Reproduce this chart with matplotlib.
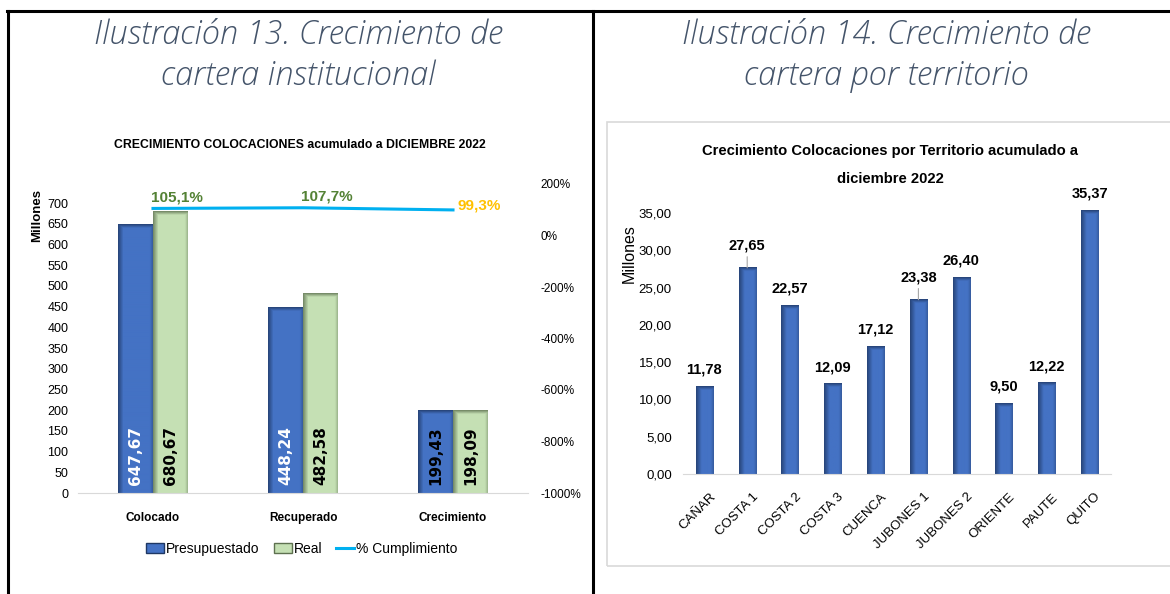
import numpy as np
import matplotlib
matplotlib.use('Agg')
import matplotlib.pyplot as plt
import matplotlib.transforms as mtransforms
from matplotlib.colors import to_rgb
from matplotlib.patches import Rectangle, Patch
from matplotlib.lines import Line2D

plt.rcParams['font.family'] = ['Liberation Sans', 'DejaVu Sans']

# Crecimiento de cartera institucional (millones)
categorias = ['Colocado', 'Recuperado', 'Crecimiento']
presupuestado = [647.67, 448.24, 199.43]
real = [680.67, 482.58, 198.09]
cumplimiento = [105.1, 107.7, 99.3]

# Crecimiento de cartera por territorio (millones)
territorios = ['CAÑAR', 'COSTA 1', 'COSTA 2', 'COSTA 3', 'CUENCA',
               'JUBONES 1', 'JUBONES 2', 'ORIENTE', 'PAUTE', 'QUITO']
colocaciones = [11.78, 27.65, 22.57, 12.09, 17.12, 23.38, 26.40, 9.50, 12.22, 35.37]

AZUL = '#4472C4'
AZUL_OSCURO = '#1F3864'
VERDE = '#C5E0B4'
VERDE_OSCURO = '#5E7150'
CIAN = '#00B0F0'
TITULO = '#44546A'

W, H = 1170, 594


def fx(px):
    return px / W


def fy(py):
    return 1 - py / H


def coma(v, dec=2):
    return f'{v:.{dec}f}'.replace('.', ',')


def shade(ax, bars, base, dark):
    """Paint each bar with darker left/top edges, like Excel's inner shadow."""
    base = np.array(to_rgb(base))
    dark = np.array(to_rgb(dark))
    for rect in bars:
        x0, y0 = rect.get_x(), rect.get_y()
        x1, y1 = x0 + rect.get_width(), y0 + rect.get_height()
        (p0, q0), (p1, q1) = ax.transData.transform([(x0, y0), (x1, y1)])
        wpx = max(int(round(p1 - p0)), 2)
        hpx = max(int(round(q1 - q0)), 2)
        i = np.arange(wpx)[None, :]
        j = np.arange(hpx)[:, None]
        left = np.clip(1 - i / 5.0, 0, 1) * 0.75
        right = np.clip(1 - (wpx - 1 - i) / 2.5, 0, 1) * 0.35
        top = np.clip(1 - j / 3.5, 0, 1) * 0.75
        d = np.maximum(np.maximum(left, right), top)[..., None]
        img = base * (1 - d) + dark * d
        ax.imshow(img, extent=(x0, x1, y0, y1), aspect='auto', interpolation='bilinear',
                  zorder=1.5)
        rect.set_edgecolor('none')


fig = plt.figure(figsize=(W / 100, H / 100), dpi=100)

# Table borders
for xs, ys in [([7, W], [11, 11]), ([8, 8], [11, H]), ([593, 593], [11, H])]:
    fig.add_artist(Line2D([fx(v) for v in xs], [fy(v) for v in ys], color='black', lw=2.2,
                          transform=fig.transFigure))

# Captions
cap = dict(family=['Open Sans', 'DejaVu Sans'], style='italic', weight=300, size=23.5,
           color=TITULO, ha='center', va='center')
fig.text(fx(298), fy(35), 'Ilustración 13. Crecimiento de', **cap)
fig.text(fx(298), fy(76), 'cartera institucional', **cap)
fig.text(fx(886), fy(35), 'Ilustración 14. Crecimiento de', **cap)
fig.text(fx(886), fy(76), 'cartera por territorio', **cap)

# ---- Left chart: presupuestado vs real ----
ax1 = fig.add_axes([fx(78), fy(493), (528 - 78) / W, (493 - 184) / H])
x = np.arange(len(categorias))
w = 0.2333
ax1.set_xlim(-0.5, 2.5)
ax1.set_ylim(0, 746)
b_pres = ax1.bar(x - w / 2, presupuestado, w, color=AZUL)
b_real = ax1.bar(x + w / 2, real, w, color=VERDE)
shade(ax1, b_pres, AZUL, AZUL_OSCURO)
shade(ax1, b_real, VERDE, VERDE_OSCURO)
ax1.set_yticks(range(0, 701, 50))
ax1.set_xticks(x, categorias, fontweight='bold', fontsize=8.5)
ax1.tick_params(axis='x', length=0, pad=14)
ax1.tick_params(axis='y', length=0, pad=7, labelsize=9)
for s in ['top', 'left', 'right']:
    ax1.spines[s].set_visible(False)
ax1.spines['bottom'].set_color('#D9D9D9')

label_colors = ['white', 'white', 'black']
for i in range(len(categorias)):
    ax1.annotate(coma(presupuestado[i]), (x[i] - w / 2, 0), xytext=(0, 6),
                 textcoords='offset points', rotation=90, ha='center', va='bottom',
                 family='DejaVu Sans', weight='bold', size=11, color=label_colors[i])
    ax1.annotate(coma(real[i]), (x[i] + w / 2, 0), xytext=(0, 6),
                 textcoords='offset points', rotation=90, ha='center', va='bottom',
                 family='DejaVu Sans', weight='bold', size=11, color='black')

ax2 = ax1.twinx()
ratio = [c / 100 for c in cumplimiento]
ax2.plot(x, ratio, color=CIAN, lw=2.2)
ax2.set_ylim(-10, 2)
ax2.set_yticks(np.arange(-10, 2.1, 2))
ax2.set_yticklabels([f'{int(round(v * 100))}%' for v in np.arange(-10, 2.1, 2)])
ax2.tick_params(axis='y', length=0, pad=9, labelsize=8.5)
for s in ax2.spines.values():
    s.set_visible(False)

pct_colors = ['#548235', '#548235', '#FFC000']
for i, r in enumerate(ratio):
    if i < len(ratio) - 1:
        ax2.annotate(coma(cumplimiento[i], 1) + '%', (x[i], r), xytext=(17, 8),
                     textcoords='offset points', ha='center', va='center',
                     weight='bold', size=11, color=pct_colors[i])
    else:
        ax2.annotate(coma(cumplimiento[i], 1) + '%', (x[i], r), xytext=(3, 3),
                     textcoords='offset points', ha='left', va='center',
                     weight='bold', size=11, color=pct_colors[i])

fig.text(fx(300), fy(145), 'CRECIMIENTO COLOCACIONES acumulado a DICIEMBRE 2022',
         ha='center', va='center', weight='bold', size=8.8)
fig.text(fx(37), fy(216), 'Millones', rotation=90, ha='center', va='center',
         weight='bold', size=9.5)

handles = [Patch(facecolor=AZUL, edgecolor=AZUL_OSCURO),
           Patch(facecolor=VERDE, edgecolor=VERDE_OSCURO),
           Line2D([], [], color=CIAN, lw=2.2)]
fig.legend(handles, ['Presupuestado', 'Real', '% Cumplimiento'], loc='center',
           bbox_to_anchor=(fx(302), fy(549)), ncol=3, frameon=False, fontsize=10,
           handlelength=1.3, handletextpad=0.15, columnspacing=1.0)

# ---- Right chart: by territory ----
fig.add_artist(Rectangle((fx(607), fy(566)), (1180 - 607) / W, (566 - 122) / H,
                         transform=fig.transFigure, fill=False, edgecolor='#D9D9D9', lw=1.2))

ax3 = fig.add_axes([fx(683), fy(474), (1111 - 683) / W, (474 - 202) / H])
xt = np.arange(len(territorios))
ax3.set_xlim(-0.5, len(territorios) - 0.5)
ax3.set_ylim(0, 36.48)
b_terr = ax3.bar(xt, colocaciones, 0.4, color=AZUL)
shade(ax3, b_terr, AZUL, AZUL_OSCURO)
yt = np.arange(0, 35.1, 5)
ax3.set_yticks(yt, [coma(v) for v in yt])
ax3.tick_params(axis='y', length=0, pad=8, labelsize=9.5)
ax3.set_xticks(xt, territorios)
ax3.tick_params(axis='x', length=0, pad=12, labelsize=9.5)
shift = mtransforms.ScaledTranslation(0.05, 0, fig.dpi_scale_trans)
for lbl in ax3.get_xticklabels():
    lbl.set_rotation(45)
    lbl.set_ha('right')
    lbl.set_va('top')
    lbl.set_rotation_mode('anchor')
    lbl.set_transform(lbl.get_transform() + shift)
for s in ['top', 'left', 'right']:
    ax3.spines[s].set_visible(False)
ax3.spines['bottom'].set_color('#D9D9D9')

# labels that were dragged up get a leader line
nudge = {'COSTA 1': 4, 'JUBONES 1': 4}
for i, (t, v) in enumerate(zip(territorios, colocaciones)):
    extra = nudge.get(t, 0)
    arrow = None
    if extra:
        arrow = dict(arrowstyle='-', color='#A6A6A6', lw=0.8, shrinkA=1, shrinkB=0,
                     relpos=(0.5, 0))
    ax3.annotate(coma(v), (i, v), xytext=(0, 7 + extra), textcoords='offset points',
                 ha='center', va='bottom', weight='bold', size=10.5, color='black',
                 arrowprops=arrow, annotation_clip=False)

fig.text(fx(890), fy(151), 'Crecimiento Colocaciones por Territorio acumulado a',
         ha='center', va='center', weight='bold', size=10.6)
fig.text(fx(890), fy(179), 'diciembre 2022', ha='center', va='center', weight='bold', size=10.6)
fig.text(fx(629), fy(254), 'Millones', rotation=90, ha='center', va='center', size=11.5)

fig.savefig('out.png', dpi=100)
